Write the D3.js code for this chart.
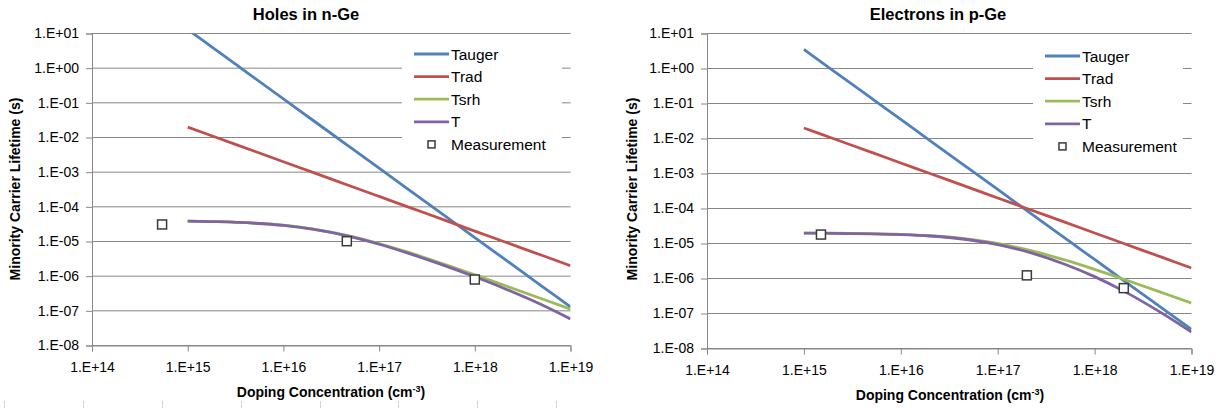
<!DOCTYPE html>
<html>
<head>
<meta charset="UTF-8">
<title>Minority carrier lifetime</title>
<script src="https://cdn.jsdelivr.net/npm/d3@7"></script>
<style>
  body { margin: 0; background: #fff; }
  text { font-family: "Liberation Sans", Arial, sans-serif; fill: #000; }
</style>
</head>
<body>
<svg id="svg" width="1224" height="408"></svg>
<script>
// doping points (cm-3) shared by the model curves
const doping = [1e15, 2e15, 5e15, 1e16, 2e16, 5e16, 1e17, 2e17, 5e17, 1e18, 2e18, 5e18, 1e19];

// holes in n-Ge
const holesAuger = [13, 3.25, 0.52, 0.13, 3.25e-2, 5.2e-3, 1.3e-3, 3.25e-4, 5.2e-5, 1.3e-5, 3.25e-6, 5.2e-7, 1.3e-7];
const holesRad = [2e-2, 1e-2, 4e-3, 2e-3, 1e-3, 4e-4, 2e-4, 1e-4, 4e-5, 2e-5, 1e-5, 4e-6, 2e-6];
const holesSrh = [3.86e-5, 3.73e-5, 3.39e-5, 2.95e-5, 2.33e-5, 1.44e-5, 8.75e-6, 4.91e-6, 2.12e-6, 1.09e-6, 5.52e-7, 2.23e-7, 1.12e-7];
const holesT = [3.85e-5, 3.72e-5, 3.36e-5, 2.91e-5, 2.28e-5, 1.39e-5, 8.33e-6, 4.61e-6, 1.94e-6, 9.58e-7, 4.5e-7, 1.5e-7, 5.84e-8];
const holesMeasX = [5.4e14, 4.6e16, 1e18];
const holesMeasY = [3.1e-5, 1.02e-5, 8e-7];

// electrons in p-Ge
const elecAuger = [3.5, 0.875, 0.14, 3.5e-2, 8.75e-3, 1.4e-3, 3.5e-4, 8.75e-5, 1.4e-5, 3.5e-6, 8.75e-7, 1.4e-7, 3.5e-8];
const elecRad = [2e-2, 1e-2, 4e-3, 2e-3, 1e-3, 4e-4, 2e-4, 1e-4, 4e-5, 2e-5, 1e-5, 4e-6, 2e-6];
const elecSrh = [1.98e-5, 1.96e-5, 1.905e-5, 1.818e-5, 1.667e-5, 1.333e-5, 1.0e-5, 6.67e-6, 3.33e-6, 1.82e-6, 9.52e-7, 3.92e-7, 1.98e-7];
const elecT = [1.978e-5, 1.957e-5, 1.895e-5, 1.80e-5, 1.636e-5, 1.28e-5, 9.27e-6, 5.83e-6, 2.52e-6, 1.13e-6, 4.36e-7, 1.006e-7, 2.93e-8];
const elecMeasX = [1.5e15, 2e17, 2e18];
const elecMeasY = [1.8e-5, 1.23e-6, 5.3e-7];

const seriesNames = ["Tauger", "Trad", "Tsrh", "T"];
const seriesColors = ["#4f81bd", "#c0504d", "#9bbb59", "#8064a2"];
const xTicks = [1e14, 1e15, 1e16, 1e17, 1e18, 1e19];
const yTicks = [1e1, 1e0, 1e-1, 1e-2, 1e-3, 1e-4, 1e-5, 1e-6, 1e-7, 1e-8];

const svg = d3.select("#svg");
const fmtExp = function (v) {
    const e = Math.round(Math.log10(v));
    return "1.E" + (e < 0 ? "-" : "+") + String(Math.abs(e)).padStart(2, "0");
};

const drawChart = function (cfg) {
    const x = d3.scaleLog().domain([1e14, 1e19]).range([cfg.left, cfg.right]);
    const y = d3.scaleLog().domain([1e-8, 1e1]).range([cfg.bottom, cfg.top]);
    const g = svg.append("g");

    // gridlines
    g.append("g").selectAll("line").data(yTicks).enter().append("line")
        .attr("x1", cfg.left).attr("x2", cfg.right)
        .attr("y1", d => y(d)).attr("y2", d => y(d))
        .attr("stroke", "#878787").attr("stroke-width", 1);

    // axes
    const yAxis = g.append("g").attr("transform", `translate(${cfg.left},0)`)
        .call(d3.axisLeft(y).tickValues(yTicks).tickFormat(fmtExp).tickSize(6).tickPadding(7));
    const xAxis = g.append("g").attr("transform", `translate(0,${cfg.bottom})`)
        .call(d3.axisBottom(x).tickValues(xTicks).tickFormat(fmtExp).tickSize(6).tickPadding(11));
    [yAxis, xAxis].forEach(a => {
        a.select(".domain").attr("stroke", "#878787");
        a.selectAll(".tick line").attr("stroke", "#878787");
        a.selectAll("text").attr("font-size", 14).attr("font-family", "Liberation Sans, Arial, sans-serif").attr("fill", "#000");
    });

    // clip
    const clipId = "clip" + cfg.id;
    svg.append("clipPath").attr("id", clipId).append("rect")
        .attr("x", cfg.left).attr("y", cfg.top).attr("width", cfg.right - cfg.left).attr("height", cfg.bottom - cfg.top);

    const line = d3.line()
        .x(d => x(d[0])).y(d => y(d[1]))
        .curve(d3.curveMonotoneX);

    const lines = g.append("g").attr("clip-path", `url(#${clipId})`);
    cfg.series.forEach((vals, i) => {
        lines.append("path")
            .datum(doping.map((n, k) => [n, vals[k]]))
            .attr("d", line)
            .attr("fill", "none")
            .attr("stroke", seriesColors[i])
            .attr("stroke-width", 2.8)
            .attr("stroke-linejoin", "round");
    });

    // measurements
    g.append("g").selectAll("rect").data(cfg.measX.map((v, i) => [v, cfg.measY[i]])).enter().append("rect")
        .attr("x", d => x(d[0]) - 4.5).attr("y", d => y(d[1]) - 4.5)
        .attr("width", 9).attr("height", 9)
        .attr("fill", "#fff").attr("stroke", "#3a3a3a").attr("stroke-width", 1.5);

    // legend
    const lg = g.append("g");
    lg.append("rect").attr("x", cfg.legX - 12).attr("y", cfg.legY - 12)
        .attr("width", cfg.legW).attr("height", 116).attr("fill", "#fff");
    seriesNames.forEach((name, i) => {
        const yy = cfg.legY + i * 22.6;
        lg.append("line").attr("x1", cfg.legX).attr("x2", cfg.legX + 35)
            .attr("y1", yy).attr("y2", yy)
            .attr("stroke", seriesColors[i]).attr("stroke-width", 2.8);
        lg.append("text").attr("x", cfg.legX + 37).attr("y", yy + 5.5)
            .attr("font-size", 15.5).text(name);
    });
    const my = cfg.legY + 4 * 22.6;
    lg.append("rect").attr("x", cfg.legX + 14).attr("y", my - 3.5).attr("width", 7).attr("height", 7)
        .attr("fill", "#fff").attr("stroke", "#3a3a3a").attr("stroke-width", 1.5);
    lg.append("text").attr("x", cfg.legX + 37).attr("y", my + 5.5)
        .attr("font-size", 15.5).text("Measurement");

    // titles
    g.append("text").attr("x", cfg.titleX).attr("y", 20).attr("text-anchor", "middle")
        .attr("font-size", 16.5).attr("font-weight", "bold").text(cfg.title);
    const xt = g.append("text").attr("x", cfg.xTitleX).attr("y", cfg.bottom + 51).attr("text-anchor", "middle")
        .attr("font-size", 14).attr("font-weight", "bold");
    xt.append("tspan").text("Doping Concentration (cm");
    xt.append("tspan").attr("font-size", 9).attr("dy", -5).text("-3");
    xt.append("tspan").attr("dy", 5).text(")");
    g.append("text").attr("transform", `translate(${cfg.yTitleX},189) rotate(-90)`)
        .attr("text-anchor", "middle").attr("font-size", 14).attr("font-weight", "bold")
        .text("Minority Carrier Lifetime (s)");
};

drawChart({
    id: "L", title: "Holes in n-Ge",
    left: 92, right: 570.5, top: 33.5, bottom: 345.5,
    series: [holesAuger, holesRad, holesSrh, holesT],
    measX: holesMeasX, measY: holesMeasY,
    legX: 414, legY: 54, legW: 160,
    titleX: 306, xTitleX: 331, yTitleX: 20
});

drawChart({
    id: "R", title: "Electrons in p-Ge",
    left: 707, right: 1191.5, top: 33.5, bottom: 348.5,
    series: [elecAuger, elecRad, elecSrh, elecT],
    measX: elecMeasX, measY: elecMeasY,
    legX: 1045, legY: 56, legW: 150,
    titleX: 938, xTitleX: 950, yTitleX: 637
});

// faint sheet column marks along the bottom edge
const colMarks = [4, 83, 162, 241, 320, 398, 477, 556];
svg.append("g").selectAll("line").data(colMarks).enter().append("line")
    .attr("x1", d => d + 0.5).attr("x2", d => d + 0.5)
    .attr("y1", 401).attr("y2", 408)
    .attr("stroke", "#d4d4d4");
</script>
</body>
</html>
